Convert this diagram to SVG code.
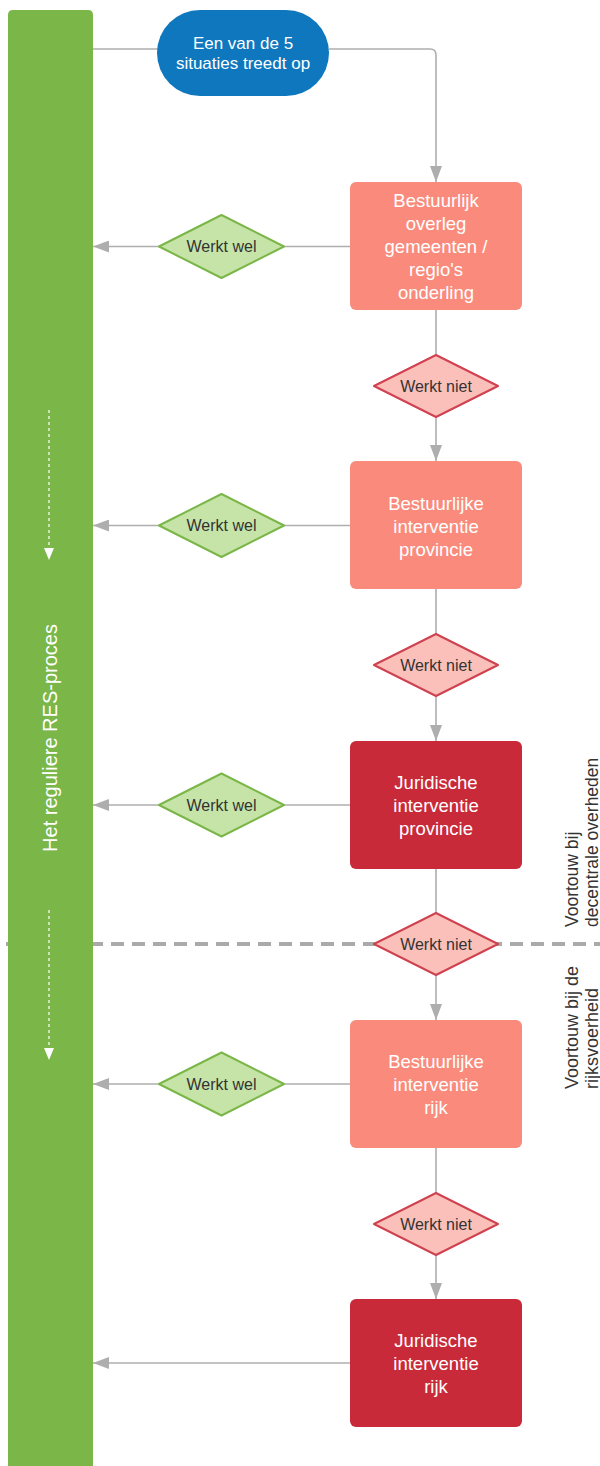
<svg xmlns="http://www.w3.org/2000/svg" width="600" height="1466" viewBox="0 0 600 1466">
<defs>
<style>
.t{font-family:"Liberation Sans",Arial,sans-serif}
.box{stroke:none}
.sal{fill:#FA8B7C}
.red{fill:#C92A39}
.wt{fill:#ffffff;font-size:18.5px;text-anchor:middle}
.dt{fill:#333333;font-size:16px;text-anchor:middle}
.wel{fill:#C6E4A8;stroke:#7AB648;stroke-width:2;stroke-linejoin:round}
.niet{fill:#FBC0B9;stroke:#D0414F;stroke-width:2;stroke-linejoin:round}
.c{fill:none;stroke:#AEAEAE;stroke-width:1.6}
.side{fill:#333333;font-size:17.5px}
.side2{fill:#333333;font-size:18px}
</style>
<marker id="ah" markerUnits="userSpaceOnUse" markerWidth="16" markerHeight="12" refX="16" refY="6" orient="auto">
<path d="M0,0 L16,6 L0,12 z" fill="#AEAEAE"/>
</marker>
<marker id="wh" markerUnits="userSpaceOnUse" markerWidth="12" markerHeight="10" refX="12" refY="5" orient="auto">
<path d="M0,0 L12,5 L0,10 z" fill="#ffffff"/>
</marker>
</defs>
<rect width="600" height="1466" fill="#ffffff"/>

<g id="separator">
<line x1="6" y1="944" x2="600" y2="944" stroke="#AAAAAA" stroke-width="4" stroke-dasharray="13 8"/>
</g>

<g id="lane">
<path d="M13,10 H88 Q93,10 93,15 V1466 H8 V15 Q8,10 13,10 z" fill="#7AB648"/>
<line x1="49" y1="410" x2="49" y2="560" stroke="#ffffff" stroke-width="1.2" stroke-dasharray="3 3" marker-end="url(#wh)"/>
<line x1="49" y1="910" x2="49" y2="1060" stroke="#ffffff" stroke-width="1.2" stroke-dasharray="3 3" marker-end="url(#wh)"/>
<text class="t" transform="translate(57,738) rotate(-90)" fill="#ffffff" font-size="20" text-anchor="middle">Het reguliere RES-proces</text>
</g>

<g id="connectors">
<line class="c" x1="93" y1="49" x2="158" y2="49"/>
<path class="c" d="M329,49 H430 Q436,49 436,55 V182" marker-end="url(#ah)"/>
<line class="c" x1="350" y1="246.5" x2="284" y2="246.5"/>
<line class="c" x1="159" y1="246.5" x2="93" y2="246.5" marker-end="url(#ah)"/>
<line class="c" x1="436" y1="310" x2="436" y2="355"/>
<line class="c" x1="436" y1="417" x2="436" y2="461" marker-end="url(#ah)"/>
<line class="c" x1="350" y1="525.5" x2="284" y2="525.5"/>
<line class="c" x1="159" y1="525.5" x2="93" y2="525.5" marker-end="url(#ah)"/>
<line class="c" x1="436" y1="589" x2="436" y2="634"/>
<line class="c" x1="436" y1="696" x2="436" y2="741" marker-end="url(#ah)"/>
<line class="c" x1="350" y1="805" x2="284" y2="805"/>
<line class="c" x1="159" y1="805" x2="93" y2="805" marker-end="url(#ah)"/>
<line class="c" x1="436" y1="869" x2="436" y2="913"/>
<line class="c" x1="436" y1="975" x2="436" y2="1020" marker-end="url(#ah)"/>
<line class="c" x1="350" y1="1084" x2="284" y2="1084"/>
<line class="c" x1="159" y1="1084" x2="93" y2="1084" marker-end="url(#ah)"/>
<line class="c" x1="436" y1="1148" x2="436" y2="1193"/>
<line class="c" x1="436" y1="1255" x2="436" y2="1299" marker-end="url(#ah)"/>
<line class="c" x1="350" y1="1363" x2="93" y2="1363" marker-end="url(#ah)"/>
</g>

<g id="start">
<rect x="157" y="10" width="172" height="86" rx="43" fill="#0E77BD"/>
<text class="t" fill="#ffffff" font-size="17" text-anchor="middle"><tspan x="243" y="49">Een van de 5</tspan><tspan x="243" y="69">situaties treedt op</tspan></text>
</g>

<g id="box1">
<rect class="box sal" x="350" y="182" width="172" height="128" rx="6"/>
<text class="t wt"><tspan x="436" y="207">Bestuurlijk</tspan><tspan x="436" y="230">overleg</tspan><tspan x="436" y="253">gemeenten /</tspan><tspan x="436" y="276">regio's</tspan><tspan x="436" y="299">onderling</tspan></text>
</g>
<g id="wel1">
<path class="wel" d="M221.5,215 L284,246.5 L221.5,278 L159,246.5 z"/>
<text class="t dt" x="221.5" y="252">Werkt wel</text>
</g>
<g id="niet1">
<path class="niet" d="M436,355 L498,386 L436,417 L374,386 z"/>
<text class="t dt" x="436" y="391.5">Werkt niet</text>
</g>

<g id="box2">
<rect class="box sal" x="350" y="461" width="172" height="128" rx="6"/>
<text class="t wt"><tspan x="436" y="509.5">Bestuurlijke</tspan><tspan x="436" y="532.5">interventie</tspan><tspan x="436" y="555.5">provincie</tspan></text>
</g>
<g id="wel2">
<path class="wel" d="M221.5,494 L284,525.5 L221.5,557 L159,525.5 z"/>
<text class="t dt" x="221.5" y="531">Werkt wel</text>
</g>
<g id="niet2">
<path class="niet" d="M436,634 L498,665 L436,696 L374,665 z"/>
<text class="t dt" x="436" y="670.5">Werkt niet</text>
</g>

<g id="box3">
<rect class="box red" x="350" y="741" width="172" height="128" rx="6"/>
<text class="t wt"><tspan x="436" y="788.5">Juridische</tspan><tspan x="436" y="811.5">interventie</tspan><tspan x="436" y="834.5">provincie</tspan></text>
</g>
<g id="wel3">
<path class="wel" d="M221.5,773.5 L284,805 L221.5,836.5 L159,805 z"/>
<text class="t dt" x="221.5" y="810.5">Werkt wel</text>
</g>
<g id="niet3">
<path class="niet" d="M436,913 L498,944 L436,975 L374,944 z"/>
<text class="t dt" x="436" y="949.5">Werkt niet</text>
</g>

<g id="box4">
<rect class="box sal" x="350" y="1020" width="172" height="128" rx="6"/>
<text class="t wt"><tspan x="436" y="1067.5">Bestuurlijke</tspan><tspan x="436" y="1090.5">interventie</tspan><tspan x="436" y="1113.5">rijk</tspan></text>
</g>
<g id="wel4">
<path class="wel" d="M221.5,1052.5 L284,1084 L221.5,1115.5 L159,1084 z"/>
<text class="t dt" x="221.5" y="1089.5">Werkt wel</text>
</g>
<g id="niet4">
<path class="niet" d="M436,1193 L498,1224 L436,1255 L374,1224 z"/>
<text class="t dt" x="436" y="1229.5">Werkt niet</text>
</g>

<g id="box5">
<rect class="box red" x="350" y="1299" width="172" height="128" rx="6"/>
<text class="t wt"><tspan x="436" y="1346.5">Juridische</tspan><tspan x="436" y="1369.5">interventie</tspan><tspan x="436" y="1392.5">rijk</tspan></text>
</g>

<g id="label-decentraal">
<text class="t side" transform="translate(578,927) rotate(-90)">Voortouw bij</text>
<text class="t side" transform="translate(598,927) rotate(-90)">decentrale overheden</text>
</g>
<g id="label-rijk">
<text class="t side2" transform="translate(578,1089) rotate(-90)">Voortouw bij de</text>
<text class="t side2" transform="translate(598,1089) rotate(-90)">rijksvoerheid</text>
</g>
</svg>
